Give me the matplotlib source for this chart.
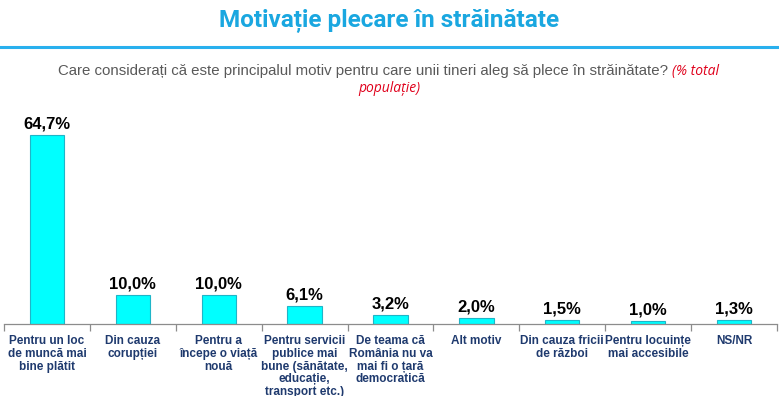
import matplotlib.pyplot as plt
import numpy as np

categories = [
    'Pentru un loc\nde muncă mai\nbine plătit',
    'Din cauza\ncorupției',
    'Pentru a\nîncepe o viață\nnouă',
    'Pentru servicii\npublice mai\nbune (sănătate,\neducație,\ntransport etc.)',
    'De teama că\nRomânia nu va\nmai fi o țară\ndemocratică',
    'Alt motiv',
    'Din cauza fricii\nde război',
    'Pentru locuințe\nmai accesibile',
    'NS/NR',
]
values = [64.7, 10.0, 10.0, 6.1, 3.2, 2.0, 1.5, 1.0, 1.3]
value_labels = ['64,7%', '10,0%', '10,0%', '6,1%', '3,2%', '2,0%', '1,5%', '1,0%', '1,3%']

W, H = 779, 396
plt.rcParams['font.family'] = ['Liberation Sans', 'DejaVu Sans']

fig = plt.figure(figsize=(W / 100, H / 100), dpi=100)
fig.patch.set_facecolor('white')

# title and separator
fig.text(389 / W, 1 - 21 / H, 'Motivație plecare în străinătate', ha='center', va='center',
         fontsize=17.5, fontweight='bold', color='#1AA7E0', family=['Roboto', 'DejaVu Sans'])
fig.add_artist(plt.Line2D([0, 1], [1 - 47 / H, 1 - 47 / H], transform=fig.transFigure,
                          color='#29B0EE', linewidth=2.2))

# subtitle, gray question + red italic note
fig.text(668 / W, 1 - 71 / H, 'Care considerați că este principalul motiv pentru care unii tineri aleg să plece în străinătate?',
         ha='right', va='center', fontsize=10.8, color='#595959')
fig.text(672 / W, 1 - 71 / H, '(% total', ha='left', va='center', fontsize=10, color='#E0001B',
         style='italic', family=['Open Sans', 'DejaVu Sans'])
fig.text(389 / W, 1 - 88 / H, 'populație)', ha='center', va='center', fontsize=10, color='#E0001B',
         style='italic', family=['Open Sans', 'DejaVu Sans'])

# bar axes
ymax = 70
bar_px = 189 / 64.7 * ymax
ax = fig.add_axes([4 / W, 72 / H, 773 / W, bar_px / H])
x = np.arange(len(values))
ax.bar(x, values, width=0.4, color='#00FFFF', edgecolor='#1FB5C8', linewidth=0.8)
for xi, v, lab in zip(x, values, value_labels):
    ax.text(xi, v + 1.2, lab, ha='center', va='bottom', fontsize=12, fontweight='bold', color='black')

ax.set_xlim(-0.5, len(values) - 0.5)
ax.set_ylim(0, ymax)
for s in ['top', 'right', 'left']:
    ax.spines[s].set_visible(False)
ax.spines['bottom'].set_color('#8C8C8C')
ax.spines['bottom'].set_linewidth(0.9)
ax.set_yticks([])
ax.set_xticks(x)
ax.set_xticklabels(categories, fontsize=8.5, fontweight='bold', color='#1F3A6E', linespacing=1.08)
ax.tick_params(axis='x', which='major', length=0, pad=8)
ax.set_xticks(np.arange(-0.5, len(values)), minor=True)
ax.tick_params(axis='x', which='minor', length=5, color='#8C8C8C', width=0.9)

fig.savefig('out.png', dpi=100, facecolor='white')
